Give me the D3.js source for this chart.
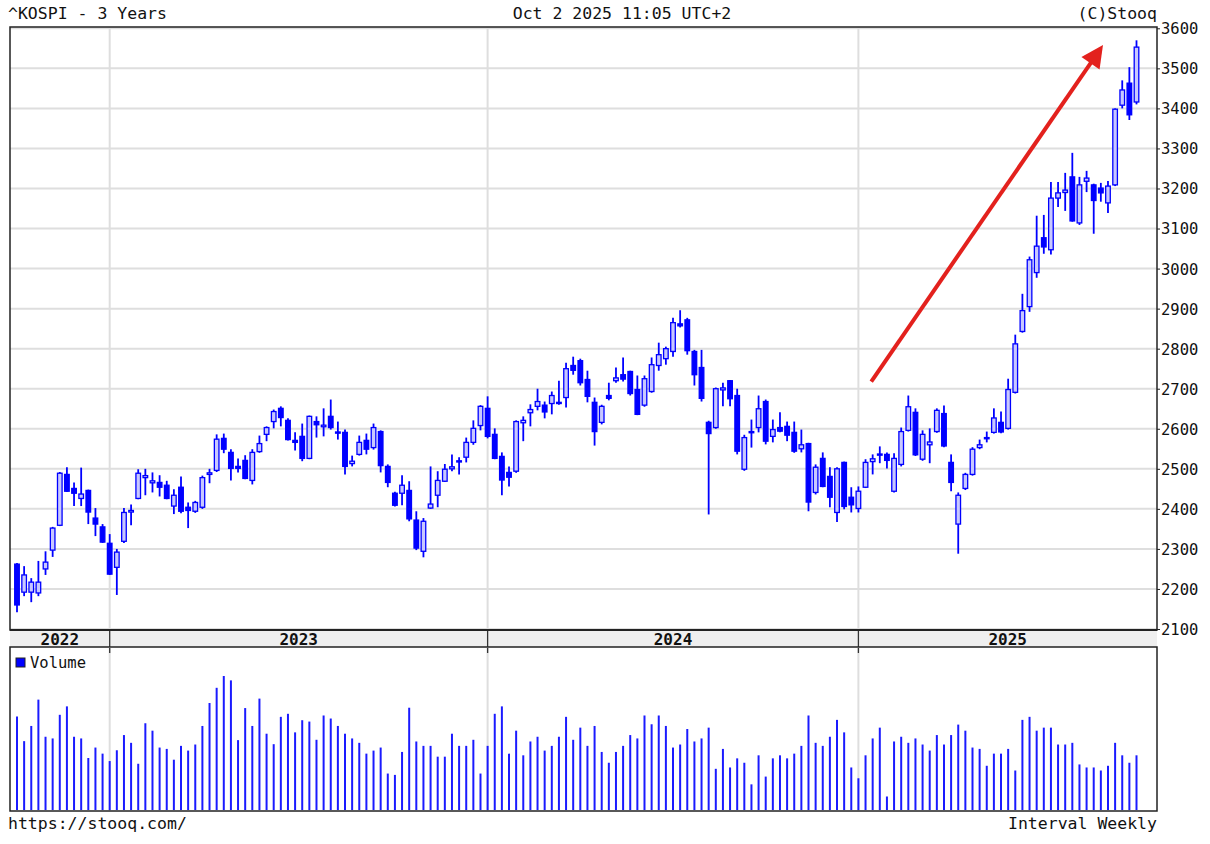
<!DOCTYPE html>
<html><head><meta charset="utf-8">
<script src="https://cdn.jsdelivr.net/npm/d3@7"></script>
<style>
body{margin:0;background:#fff}
text{font-family:"DejaVu Sans Mono","Liberation Mono",monospace;fill:#111}
</style>
</head><body>
<svg id="c" width="1210" height="844"></svg>
<script>
// ---- DATA (weekly bars, index 0 = week of 26 Sep 2022) ----
const opens = [2262,2192,2192,2190,2250,2297,2359,2486,2451,2426,2446,2377,2355,2314,2254,2319,2392,2426,2478,2465,
2466,2459,2407,2454,2404,2394,2404,2486,2496,2576,2541,2506,2521,2471,2543,2586,2618,2651,2621,2571,
2581,2526,2618,2605,2631,2592,2591,2513,2536,2571,2553,2593,2506,2439,2439,2446,2372,2294,2402,2434,
2469,2500,2520,2529,2566,2608,2651,2586,2531,2491,2494,2615,2640,2656,2659,2663,2663,2678,2758,2770,
2723,2666,2616,2683,2720,2735,2743,2698,2659,2693,2758,2775,2793,2862,2872,2793,2753,2616,2603,2697,
2720,2683,2499,2590,2603,2668,2581,2603,2606,2591,2550,2563,2441,2526,2481,2391,2516,2429,2401,2454,
2518,2535,2536,2444,2511,2596,2641,2524,2560,2593,2638,2516,2362,2451,2486,2553,2576,2591,2616,2601,
2691,2843,2905,2990,3077,3047,3176,3190,3229,3114,3218,3209,3201,3164,3209,3408,3463,3416];
const highs = [2265,2257,2227,2270,2294,2355,2492,2504,2466,2503,2448,2402,2362,2337,2300,2402,2411,2499,2500,2491,
2484,2470,2449,2481,2416,2420,2483,2500,2586,2588,2549,2526,2534,2549,2583,2606,2648,2656,2626,2591,
2613,2633,2631,2651,2673,2618,2598,2533,2583,2588,2613,2596,2511,2443,2484,2469,2394,2377,2506,2494,
2512,2536,2529,2578,2621,2659,2681,2601,2541,2506,2621,2631,2661,2700,2668,2693,2720,2765,2780,2775,
2745,2678,2660,2715,2753,2778,2745,2733,2733,2778,2815,2805,2877,2896,2877,2797,2797,2620,2703,2715,
2722,2700,2585,2623,2683,2673,2623,2641,2618,2618,2598,2565,2511,2541,2504,2504,2518,2454,2456,2524,
2536,2556,2541,2539,2603,2683,2651,2596,2601,2651,2658,2536,2441,2490,2554,2573,2593,2651,2643,2725,
2835,2937,3030,3132,3134,3216,3216,3239,3289,3229,3244,3212,3214,3219,3400,3470,3503,3570];
const lows = [2142,2182,2167,2182,2235,2280,2357,2442,2407,2407,2362,2332,2315,2235,2185,2315,2359,2424,2434,2441,
2431,2424,2387,2389,2352,2390,2400,2464,2492,2539,2471,2491,2474,2461,2540,2569,2601,2606,2571,2546,
2519,2524,2578,2581,2598,2573,2486,2506,2533,2536,2548,2491,2454,2406,2409,2369,2297,2279,2400,2404,
2467,2494,2486,2516,2560,2596,2576,2524,2434,2456,2490,2569,2606,2646,2626,2636,2660,2653,2735,2708,
2666,2558,2611,2671,2715,2718,2683,2634,2655,2690,2745,2760,2780,2853,2785,2708,2668,2386,2600,2656,
2656,2536,2495,2553,2591,2561,2566,2591,2569,2540,2541,2394,2436,2454,2404,2367,2399,2391,2391,2452,
2486,2514,2501,2441,2506,2593,2532,2520,2514,2590,2554,2444,2288,2447,2483,2549,2566,2588,2589,2598,
2688,2840,2892,2977,3037,3035,3154,3144,3117,3109,3191,3087,3167,3139,3206,3400,3371,3410];
const closes = [2160,2235,2217,2217,2267,2352,2489,2444,2439,2437,2392,2362,2317,2237,2292,2391,2396,2489,2483,2470,
2454,2426,2434,2394,2396,2416,2478,2490,2574,2549,2501,2501,2476,2541,2563,2603,2643,2628,2573,2566,
2526,2631,2610,2609,2603,2590,2506,2519,2566,2549,2603,2508,2466,2409,2459,2375,2302,2369,2412,2471,
2499,2505,2517,2566,2601,2656,2581,2526,2472,2479,2618,2621,2648,2668,2642,2683,2666,2750,2746,2715,
2681,2593,2656,2676,2727,2724,2688,2636,2725,2760,2785,2800,2865,2857,2795,2735,2676,2588,2700,2702,
2675,2544,2578,2593,2650,2569,2598,2594,2584,2544,2560,2417,2504,2456,2429,2500,2406,2410,2444,2516,
2525,2537,2521,2526,2593,2655,2535,2586,2567,2646,2557,2466,2434,2486,2549,2560,2578,2627,2592,2698,
2812,2895,3022,3056,3054,3176,3189,3196,3119,3209,3226,3170,3189,3206,3398,3446,3384,3553];
const volumes = [2770,2040,2490,3270,2170,2120,2820,3070,2170,2120,1540,1850,1670,1450,1770,2220,1990,1370,2570,2350,
1850,1810,1490,1900,1760,1940,2490,3170,3620,3970,3840,2070,3020,2490,3300,2260,1950,2760,2850,2300,
2660,2620,2080,2800,2710,2490,2260,2120,1990,1670,1760,1850,1080,1040,1720,3030,2030,1900,1900,1580,
1580,2260,1900,1900,2080,1080,1900,2850,3070,1670,2350,1620,2030,2170,1760,1900,2170,2760,2080,2440,
1900,2490,1720,1400,1720,1900,2220,2120,2800,2540,2800,2490,1850,1940,2400,2030,2120,2440,1220,1810,
1260,1530,1400,760,1620,990,1530,1620,1530,1670,1900,2800,1990,1900,2170,2670,2300,1260,940,1620,
2120,2440,400,2030,2170,1990,2120,1940,1760,2220,1940,2220,2530,2350,1850,1810,1310,1670,1670,1810,
1170,2670,2760,2350,2440,2440,1940,1940,1990,1350,1260,1260,1170,1310,1990,1620,1400,1620];
const priceTicks = [2100,2200,2300,2400,2500,2600,2700,2800,2900,3000,3100,3200,3300,3400,3500,3600];
const yearLabels = ["2022","2023","2024","2025"];
const yearStartIdx = [13,66,118];          // bar of the week containing 1 January
const arrowPts = [[119.8,2718],[152.3,3558]]; // annotation arrow (bar index, price)

// ---- LAYOUT ----
const L = 10, R = 1157, T = 27, B = 630;
const bandB = 647, vT = 648, vB = 811;
const blue = "#0000ff";
const svg = d3.select("#c");
const n = closes.length;
const x = d3.scaleLinear().domain([0, n - 1]).range([17, 1136.5]);
const y = d3.scaleLinear().domain([2100, 3600]).range([629, 28.3]);
const yv = d3.scaleLinear().domain([0, 4740]).range([810, 650]);

// header
svg.append("text").attr("x", 8).attr("y", 19).attr("font-size", 16.5).text("^KOSPI - 3 Years");
svg.append("text").attr("x", 622).attr("y", 19).attr("font-size", 16.5).attr("text-anchor", "middle").text("Oct 2 2025 11:05 UTC+2");
svg.append("text").attr("x", 1157).attr("y", 19).attr("font-size", 16.5).attr("text-anchor", "end").text("(C)Stooq");

// horizontal grid
svg.append("g").selectAll("line").data(priceTicks).join("line")
  .attr("x1", L).attr("x2", R).attr("y1", d => y(d)).attr("y2", d => y(d))
  .attr("stroke", "#dedede").attr("stroke-width", 2);

// vertical year grid (price + volume)
const yearX = yearStartIdx.map(i => x(i));
svg.append("g").selectAll("line").data(yearX).join("line")
  .attr("x1", d => d).attr("x2", d => d).attr("y1", T).attr("y2", B)
  .attr("stroke", "#dedede").attr("stroke-width", 2);
svg.append("g").selectAll("line").data(yearX).join("line")
  .attr("x1", d => d).attr("x2", d => d).attr("y1", vT).attr("y2", vB)
  .attr("stroke", "#dedede").attr("stroke-width", 2);

// right axis labels
const yAxis = d3.axisRight(y).tickValues(priceTicks).tickSize(3).tickFormat(d3.format("d"));
const ga = svg.append("g").attr("transform", `translate(${R},0)`).call(yAxis);
ga.select(".domain").remove();
ga.selectAll("line").attr("stroke", "#222");
ga.selectAll("text").attr("font-size", 15.5).attr("x", 4).attr("dy", "0.35em")
  .style("font-family", '"DejaVu Sans Mono",monospace').attr("fill", "#111");

// candles
const idx = d3.range(n);
const g = svg.append("g");
g.selectAll("line.w").data(idx).join("line").attr("class", "w")
  .attr("x1", i => x(i)).attr("x2", i => x(i))
  .attr("y1", i => y(highs[i])).attr("y2", i => y(lows[i]))
  .attr("stroke", blue).attr("stroke-width", 1.8);
g.selectAll("rect.b").data(idx).join("rect").attr("class", "b")
  .attr("x", i => x(i) - 2.3).attr("width", 4.6)
  .attr("y", i => y(Math.max(opens[i], closes[i])))
  .attr("height", i => Math.max(1.2, Math.abs(y(opens[i]) - y(closes[i]))))
  .attr("fill", i => closes[i] >= opens[i] ? "#c8c8ff" : blue)
  .attr("stroke", blue).attr("stroke-width", 1.3);

// volume bars
svg.append("g").selectAll("line").data(idx).join("line")
  .attr("x1", i => x(i)).attr("x2", i => x(i))
  .attr("y1", yv(0)).attr("y2", i => yv(volumes[i]))
  .attr("stroke", "#1a1aff").attr("stroke-width", 2);

// year band
svg.append("rect").attr("x", L).attr("y", B).attr("width", R - L).attr("height", bandB - B).attr("fill", "#efefef");
svg.append("g").selectAll("line").data(yearX).join("line")
  .attr("x1", d => d).attr("x2", d => d).attr("y1", B).attr("y2", bandB)
  .attr("stroke", "#333").attr("stroke-width", 1.3);
svg.append("g").selectAll("line").data(yearX).join("line")
  .attr("x1", d => d).attr("x2", d => d).attr("y1", vT).attr("y2", vT + 5)
  .attr("stroke", "#333").attr("stroke-width", 1.3);
const bounds = [L, ...yearX, R];
svg.append("g").selectAll("text").data(yearLabels).join("text")
  .attr("x", (d, k) => (bounds[k] + bounds[k + 1]) / 2).attr("y", 645)
  .attr("text-anchor", "middle").attr("font-size", 16).attr("font-weight", "bold").attr("fill", "#222")
  .text(d => d);

// frames
const fr = svg.append("g").attr("fill", "none").attr("stroke", "#222");
fr.append("rect").attr("x", L).attr("y", T).attr("width", R - L).attr("height", B - T).attr("stroke-width", 1.5);
fr.append("line").attr("x1", L).attr("x2", R).attr("y1", B).attr("y2", B).attr("stroke-width", 2);
fr.append("rect").attr("x", L).attr("y", bandB).attr("width", R - L).attr("height", vB - bandB).attr("stroke-width", 1.5);

// volume legend
svg.append("rect").attr("x", 16).attr("y", 658).attr("width", 9).attr("height", 9).attr("fill", blue).attr("stroke", "#222");
svg.append("text").attr("x", 30).attr("y", 668).attr("font-size", 15.5).text("Volume");

// footer
svg.append("text").attr("x", 8).attr("y", 829).attr("font-size", 16.5).text("https://stooq.com/");
svg.append("text").attr("x", 1157).attr("y", 829).attr("font-size", 16.5).attr("text-anchor", "end").text("Interval Weekly");

// red arrow annotation
const [p0, p1] = arrowPts.map(p => [x(p[0]), y(p[1])]);
const ang = Math.atan2(p1[1] - p0[1], p1[0] - p0[0]);
const hl = 22, hw = 11;
const bx = p1[0] - hl * Math.cos(ang), by = p1[1] - hl * Math.sin(ang);
svg.append("line").attr("x1", p0[0]).attr("y1", p0[1]).attr("x2", bx + 3 * Math.cos(ang)).attr("y2", by + 3 * Math.sin(ang))
  .attr("stroke", "#e3211d").attr("stroke-width", 4);
svg.append("path")
  .attr("d", `M${p1[0]},${p1[1]} L${bx + hw * Math.sin(ang)},${by - hw * Math.cos(ang)} L${bx - hw * Math.sin(ang)},${by + hw * Math.cos(ang)} Z`)
  .attr("fill", "#e3211d");
</script>
</body></html>
